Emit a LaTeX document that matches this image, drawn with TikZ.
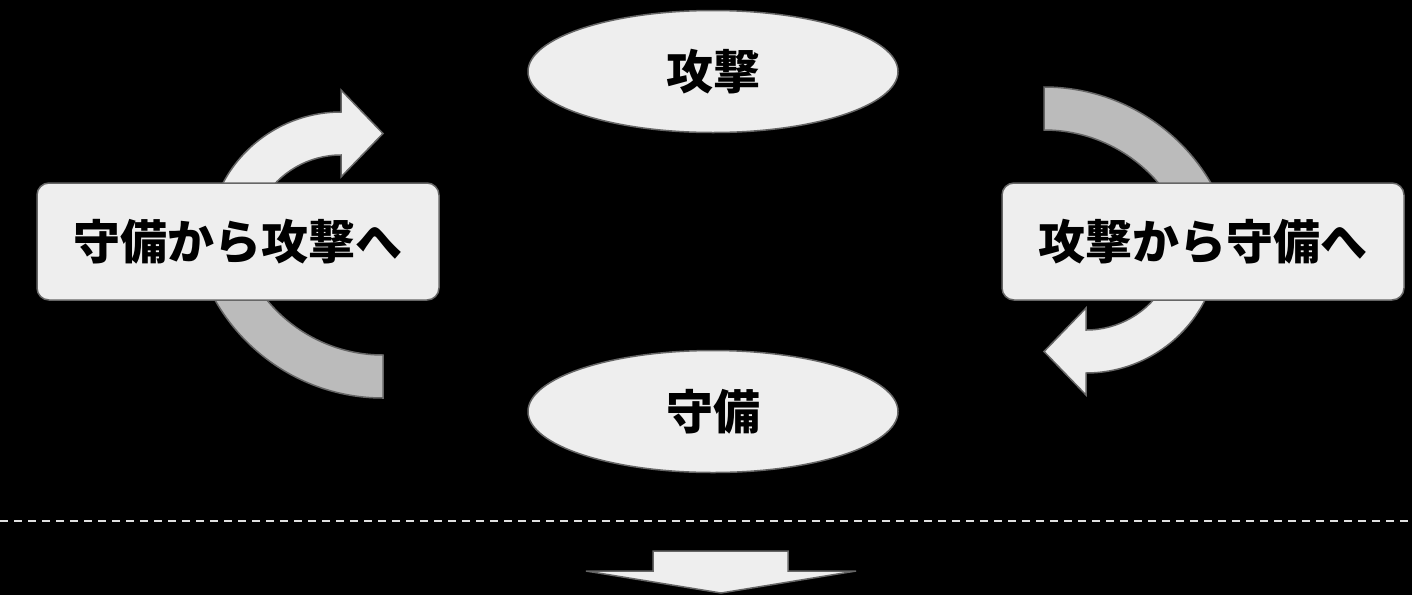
\documentclass[tikz,border=0pt]{standalone}
\usepackage{fontspec}
\newfontfamily\cjk{Noto Sans CJK JP}
\usetikzlibrary{shapes.geometric}
\definecolor{lightfill}{HTML}{EEEEEE}
\definecolor{grayfill}{HTML}{BBBBBB}
\definecolor{edge}{HTML}{666666}
\definecolor{dashcol}{HTML}{E0E0E0}
\tikzset{
  lightshape/.style={fill=lightfill, draw=edge, line width=1.5pt, line join=miter},
  grayshape/.style={fill=grayfill, draw=edge, line width=1.5pt},
  phasebox/.style={rectangle, rounded corners=12pt, fill=lightfill, draw=edge, line width=1.5pt,
    minimum width=402pt, minimum height=117pt, inner sep=0pt,
    font=\cjk\bfseries\fontsize{47}{50}\selectfont},
  stateell/.style={ellipse, fill=lightfill, draw=edge, line width=1.5pt,
    minimum width=370pt, minimum height=122pt, inner sep=0pt,
    font=\cjk\bfseries\fontsize{47}{50}\selectfont}
}
\begin{document}
\begin{tikzpicture}[x=1pt,y=1pt]
\useasboundingbox (0,0) rectangle (1412,-595);
\fill[black] (0,0) rectangle (1412,-595);
% cycle arrows (left side), right side is the same rotated 180 degrees
\begin{scope}
  \draw[lightshape] (341,-245.5) ++(195:133.5) arc[start angle=195, end angle=90, radius=133.5pt]
     -- (341,-90) -- (383,-133.5) -- (341,-177) -- (341,-155)
     arc[start angle=90, end angle=195, radius=90.5pt] -- cycle;
  \draw[grayshape] (383,-205) ++(185:193) arc[start angle=185, end angle=270, radius=193pt]
     -- (383,-355) arc[start angle=270, end angle=185, radius=150pt] -- cycle;
\end{scope}
\begin{scope}[rotate around={180:(713.5,-242.5)}]
  \draw[lightshape] (341,-245.5) ++(195:133.5) arc[start angle=195, end angle=90, radius=133.5pt]
     -- (341,-90) -- (383,-133.5) -- (341,-177) -- (341,-155)
     arc[start angle=90, end angle=195, radius=90.5pt] -- cycle;
  \draw[grayshape] (383,-205) ++(185:193) arc[start angle=185, end angle=270, radius=193pt]
     -- (383,-355) arc[start angle=270, end angle=185, radius=150pt] -- cycle;
\end{scope}
% nodes
\node[stateell] (atk) at (713,-71.5) {攻撃};
\node[stateell] (def) at (713,-411.5) {守備};
\node[phasebox] (d2a) at (238,-241.5) {守備から攻撃へ};
\node[phasebox] (a2d) at (1203,-241.5) {攻撃から守備へ};
% dashed separator
\coordinate (dl) at (0,-521);
\coordinate (dr) at (1412,-521);
\draw[dashcol, line width=2pt, dash pattern=on 8pt off 6pt] (dl) -- (dr);
% bottom arrow
\draw[lightshape] (653,-551) -- (788,-551) -- (788,-571) -- (856,-571) -- (721,-593)
   -- (586,-571) -- (653,-571) -- cycle;
\end{tikzpicture}
\end{document}
